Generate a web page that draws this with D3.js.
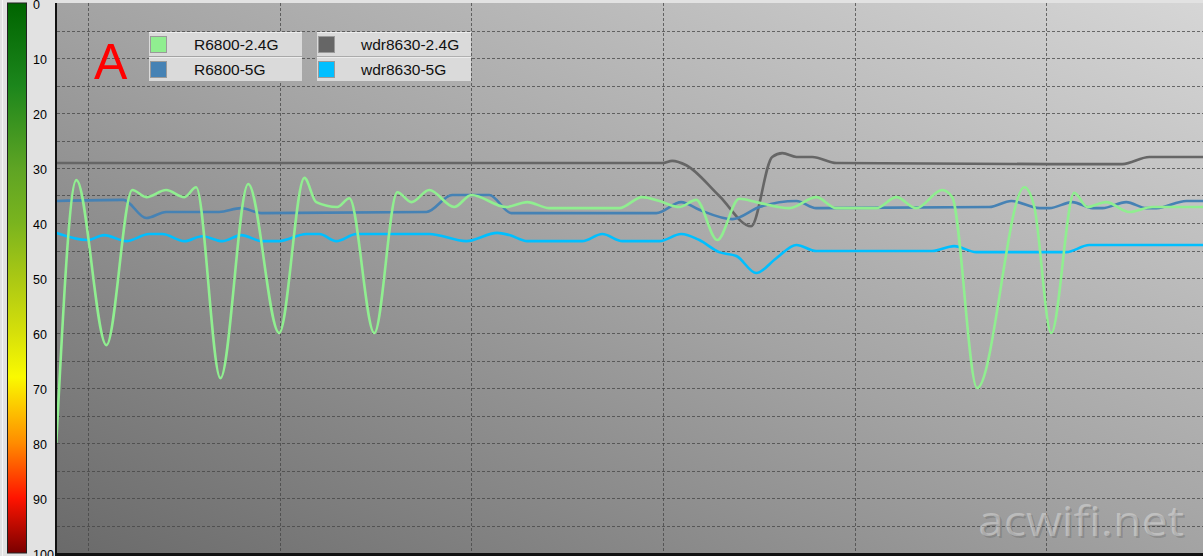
<!DOCTYPE html>
<html>
<head>
<meta charset="utf-8">
<script src="https://cdn.jsdelivr.net/npm/d3@7"></script>
<style>
  html, body { margin: 0; padding: 0; background: #e2e2e2; overflow: hidden; }
  svg { display: block; }
</style>
</head>
<body>
<script>
// ---------------- DATA ----------------
const yTicks = [0, 10, 20, 30, 40, 50, 60, 70, 80, 90, 100];
const yGridValues = [5, 10, 15, 20, 25, 30, 35, 40, 45, 50, 55, 60, 65, 70, 75, 80, 85, 90, 95];
const timeGridValues = [10, 70, 130, 190, 250, 310];
const seriesNames = ["R6800-2.4G", "R6800-5G", "wdr8630-2.4G", "wdr8630-5G"];

// [time (s), signal value]
const r6800_24G = [
  [0, 80], [6.3, 32.2], [15.7, 62.2], [23.8, 34], [28.2, 35.3], [34.4, 34], [40.1, 35.3],
  [43.8, 33.5], [51.4, 68.2], [60.1, 32.9], [69.8, 60], [77.7, 31.8], [81.4, 36.2],
  [88, 37.1], [91.8, 35.5], [99.6, 60], [106.8, 34.4], [111.2, 36.2], [116.8, 34],
  [124.6, 37.1], [130, 34.9], [140.9, 37.1], [147.5, 36.2], [154.4, 37.3], [176.3, 37.3],
  [183.5, 35.3], [188.9, 36], [195.1, 37.1], [200.4, 35.8], [207, 43.1], [213.9, 35.6],
  [219.2, 36.2], [229.6, 37.3], [238, 35.3], [244.3, 37.3], [256.8, 37.3], [263.1, 35.3],
  [269.3, 37.3], [277.5, 34], [280.6, 35.3], [288.4, 70], [303.2, 33.5], [306.3, 37.1],
  [311.6, 60], [318.8, 34.5], [322.9, 37.1], [328.8, 36.2], [336.1, 38], [343.3, 37.1],
  [360, 37.1]
];
const r6800_5G = [
  [0, 36], [21, 35.8], [28.2, 39.1], [34.4, 38], [51, 38], [57.9, 37.3], [64.2, 38.2],
  [115.9, 38], [124, 34.9], [135.6, 34.9], [142.5, 38.2], [187.9, 38.2], [195.7, 36.2],
  [201.4, 37.6], [211.7, 39.3], [220.2, 37.1], [231.8, 36], [238, 37.3], [292.2, 37.1],
  [299.1, 36], [307.9, 37.3], [311, 37.3], [318.2, 36.2], [324.5, 37.3], [327.6, 37.3],
  [335.1, 36.2], [341.4, 37.3], [344.5, 37.3], [353.9, 36], [360, 36]
];
const wdr8630_24G = [
  [0, 29.1], [189.8, 29.1], [192.9, 28.7], [197.3, 29.5], [207.5, 35], [217.6, 40.6],
  [224.2, 28], [227.4, 27.3], [231.8, 28], [236.8, 28], [244.3, 29.1], [333.9, 29.3],
  [342.3, 28], [360, 28]
];
const wdr8630_5G = [
  [0, 41.8], [9.7, 43.1], [15, 42.2], [21.9, 43.3], [29.1, 42], [33.2, 42], [40.1, 43.3],
  [45.7, 42.4], [52, 43.3], [57.9, 42.2], [64.5, 43.3], [69.8, 43.3], [78.3, 42], [82.4, 42],
  [87.7, 43.3], [94, 42], [116.8, 42], [128.4, 43.3], [138.1, 41.8], [141.9, 42.2],
  [147.5, 43.3], [164.7, 43.3], [171, 42], [177.3, 43.3], [188.9, 43.3], [195.7, 42],
  [201.4, 43.1], [207.6, 45.3], [213, 46], [219.2, 49.1], [225.5, 46.4], [231.8, 44],
  [238, 45.1], [274.3, 45.1], [281.2, 44.2], [288.1, 45.3], [316.3, 45.3], [323.5, 44],
  [360, 44]
];

// ---------------- LAYOUT / STYLE ----------------
const W = 1203, H = 556;
const plot = { left: 57, top: 3, right: 1203, bottom: 553 };
const seriesData = [r6800_24G, r6800_5G, wdr8630_24G, wdr8630_5G];
const seriesColors = ["#90ee90", "#4682b4", "#666666", "#00bfff"];
const drawOrder = [3, 2, 1, 0];

const x = d3.scaleLinear().domain([0, 360]).range([56.3, 56.3 + 360 * 3.193]);
const y = d3.scaleLinear().domain([0, 100]).range([plot.top, plot.bottom]);

const svg = d3.select("body").append("svg").attr("width", W).attr("height", H);
const defs = svg.append("defs");

const bg = defs.append("linearGradient").attr("id", "plotBg")
  .attr("x1", 0).attr("y1", 1).attr("x2", 1).attr("y2", 0);
bg.append("stop").attr("offset", 0).attr("stop-color", "#6a6a6a");
bg.append("stop").attr("offset", 0.5).attr("stop-color", "#a3a3a3");
bg.append("stop").attr("offset", 1).attr("stop-color", "#d6d6d6");

const cb = defs.append("linearGradient").attr("id", "colorBar")
  .attr("x1", 0).attr("y1", 0).attr("x2", 0).attr("y2", 1);
[[0, "#006400"], [0.15, "#1c861c"], [0.3, "#5ea424"], [0.4, "#7ab41e"], [0.5, "#aac814"],
 [0.6, "#d6e00a"], [0.68, "#fafa00"], [0.8, "#ff8c00"], [0.9, "#ff1400"], [1, "#7a0000"]]
  .forEach(([o, c]) => cb.append("stop").attr("offset", o).attr("stop-color", c));

defs.append("clipPath").attr("id", "plotClip").append("rect")
  .attr("x", plot.left).attr("y", plot.top)
  .attr("width", plot.right - plot.left).attr("height", plot.bottom - plot.top);

// left panel
svg.append("rect").attr("x", 0).attr("y", 0).attr("width", W).attr("height", H).attr("fill", "#e2e2e2");
svg.append("line").attr("x1", 2.5).attr("x2", 2.5).attr("y1", 0).attr("y2", H).attr("stroke", "#f4f4f4");

// color bar
svg.append("rect").attr("x", 7.5).attr("y", y(0)).attr("width", 19).attr("height", y(100) - y(0))
  .attr("fill", "url(#colorBar)").attr("stroke", "#222").attr("stroke-width", 1);

const axis = d3.axisRight(y).tickValues(yTicks).tickSize(0).tickPadding(0);
const axG = svg.append("g").attr("transform", "translate(33,1)").call(axis);
axG.select(".domain").remove();
axG.selectAll("text").attr("font-family", "Arial, 'Liberation Sans', sans-serif")
  .attr("font-size", 12.5).attr("fill", "#000");

// plot area
svg.append("rect").attr("x", plot.left).attr("y", plot.top)
  .attr("width", plot.right - plot.left).attr("height", plot.bottom - plot.top)
  .attr("fill", "url(#plotBg)");

const grid = svg.append("g").attr("clip-path", "url(#plotClip)");
grid.selectAll("line.h").data(yGridValues).join("line").attr("class", "h")
  .attr("x1", plot.left).attr("x2", plot.right)
  .attr("y1", d => Math.round(y(d)) + 0.5).attr("y2", d => Math.round(y(d)) + 0.5)
  .attr("stroke", "#444").attr("stroke-opacity", 0.75).attr("stroke-dasharray", "3,2");
grid.selectAll("line.v").data(timeGridValues).join("line").attr("class", "v")
  .attr("x1", d => Math.round(x(d)) + 0.5).attr("x2", d => Math.round(x(d)) + 0.5)
  .attr("y1", plot.top).attr("y2", plot.bottom)
  .attr("stroke", "#444").attr("stroke-opacity", 0.75).attr("stroke-dasharray", "3,2");

// "A"
svg.append("text").attr("x", 94).attr("y", 79).text("A")
  .attr("font-family", "Arial, 'Liberation Sans', sans-serif").attr("font-size", 50)
  .attr("fill", "#ff0000");

// legend
const legendCols = [{ x: 149, w: 153, tx: 194 }, { x: 317, w: 154, tx: 361 }];
const legendItems = seriesNames.map((n, i) => ({
  name: n, color: seriesColors[i], col: Math.floor(i / 2), row: i % 2
}));
const lg = svg.append("g");
legendItems.forEach(d => {
  const c = legendCols[d.col];
  const ry = 32 + d.row * 25;
  lg.append("rect").attr("x", c.x).attr("y", ry).attr("width", c.w).attr("height", 24)
    .attr("fill", "#dadada");
  lg.append("line").attr("x1", c.x).attr("x2", c.x + c.w).attr("y1", ry + 0.5).attr("y2", ry + 0.5)
    .attr("stroke", "#ececec");
  lg.append("rect").attr("x", c.x + 1.5).attr("y", ry + 4.5).attr("width", 16).attr("height", 16)
    .attr("fill", d.color).attr("stroke", "#9a9a9a").attr("stroke-width", 1);
  lg.append("text").attr("x", c.tx).attr("y", ry + 18).text(d.name)
    .attr("font-family", "Arial, 'Liberation Sans', sans-serif").attr("font-size", 15.5)
    .attr("fill", "#111");
});

// lines
const line = d3.line().x(d => x(d[0])).y(d => y(d[1])).curve(d3.curveMonotoneX);
const lines = svg.append("g").attr("clip-path", "url(#plotClip)");
drawOrder.forEach(i => {
  lines.append("path").datum(seriesData[i]).attr("d", line)
    .attr("fill", "none").attr("stroke", seriesColors[i]).attr("stroke-width", 2.6)
    .attr("stroke-linejoin", "round");
});

// borders
svg.append("rect").attr("x", 55).attr("y", plot.top).attr("width", 2).attr("height", H - plot.top).attr("fill", "#111");
svg.append("rect").attr("x", 55).attr("y", plot.bottom).attr("width", W - 55).attr("height", H - plot.bottom).attr("fill", "#111");

// watermark
const wm = svg.append("g").attr("font-family", "'Open Sans', 'Noto Sans', sans-serif").attr("font-size", 42);
wm.append("text").attr("x", 980).attr("y", 538).text("acwifi.net")
  .attr("textLength", 206).attr("lengthAdjust", "spacingAndGlyphs")
  .attr("fill", "#000").attr("fill-opacity", 0.12);
wm.append("text").attr("x", 978).attr("y", 536).text("acwifi.net")
  .attr("textLength", 206).attr("lengthAdjust", "spacingAndGlyphs")
  .attr("fill", "#fff").attr("fill-opacity", 0.32);
</script>
</body>
</html>
